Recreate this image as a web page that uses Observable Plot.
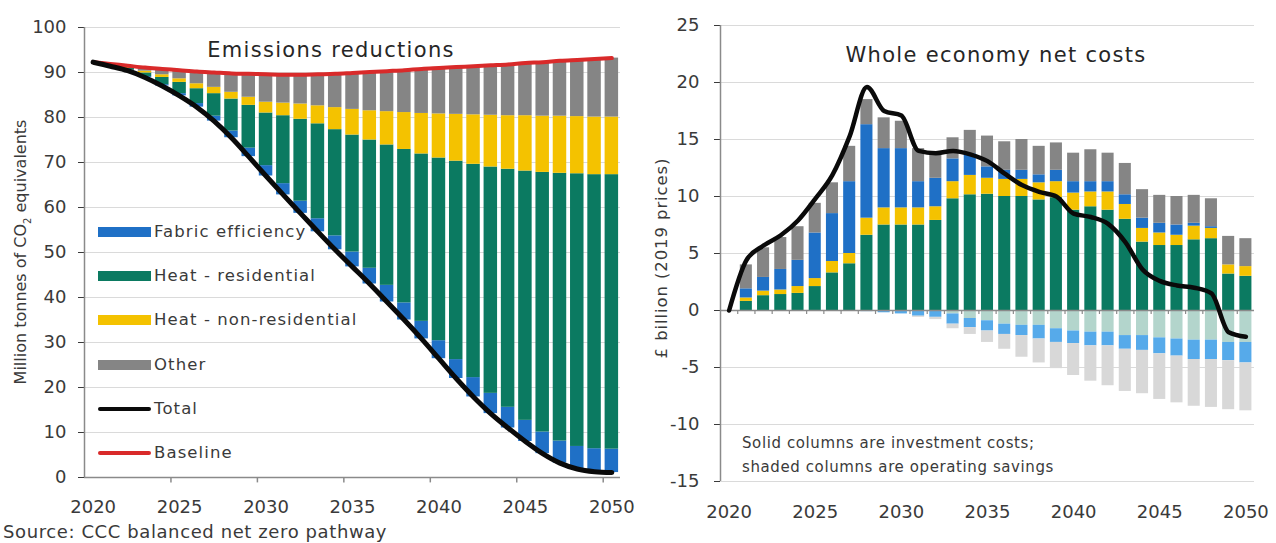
<!DOCTYPE html>
<html>
<head>
<meta charset="utf-8">
<script src="https://cdn.jsdelivr.net/npm/d3@7"></script>
<script src="https://cdn.jsdelivr.net/npm/@observablehq/plot@0.6"></script>
<style>
  html, body { margin: 0; padding: 0; background: #fff; }
  body { font-family: "DejaVu Sans", sans-serif; color: #3a3a3a; }
  #wrap { position: relative; width: 1276px; height: 543px; overflow: hidden; }
  .abs { position: absolute; white-space: nowrap; line-height: 1; }
  .ctr { transform: translate(-50%, -50%); }
  .vmid { transform: translate(0, -50%); }
  .rot { transform: translate(-50%, -50%) rotate(-90deg); }
  .title { font-size: 21px; letter-spacing: 1.3px; color: #262626; }
  .leg { font-size: 16.5px; letter-spacing: 1.1px; }
  .sw { position: absolute; }
</style>
</head>
<body>
<div id="wrap">
  <div id="leftChart" class="abs" style="left:0;top:0"></div>
  <div id="rightChart" class="abs" style="left:640px;top:0"></div>

  <div class="abs ctr title" style="left:331px;top:50px">Emissions reductions</div>
  <div class="abs ctr title" style="left:996px;top:55px">Whole economy net costs</div>

  <div class="abs rot" style="left:23px;top:252px;font-size:16px;">Million tonnes of CO<sub style="font-size:10px;">2</sub> equivalents</div>
  <div class="abs rot" style="left:662px;top:258px;font-size:16.5px;letter-spacing:0.9px;">£ billion (2019 prices)</div>

  <div class="abs vmid" style="left:3px;top:532px;font-size:18px;letter-spacing:0.6px;">Source: CCC balanced net zero pathway</div>

  <div class="abs vmid" style="left:742px;top:443px;font-size:15px;letter-spacing:0.6px;">Solid columns are investment costs;</div>
  <div class="abs vmid" style="left:742px;top:467px;font-size:15px;letter-spacing:0.6px;">shaded columns are operating savings</div>

  <div id="legend"></div>
</div>

<script>
// ---------- Categories ----------
const years = [2020, 2021, 2022, 2023, 2024, 2025, 2026, 2027, 2028, 2029, 2030,
               2031, 2032, 2033, 2034, 2035, 2036, 2037, 2038, 2039, 2040,
               2041, 2042, 2043, 2044, 2045, 2046, 2047, 2048, 2049, 2050];
const yearLabels = [2020, 2025, 2030, 2035, 2040, 2045, 2050];

// ---------- Left panel: emissions (MtCO2e) ----------
const baseline   = [92.3, 91.9, 91.5, 91.1, 90.8, 90.5, 90.2, 90.0, 89.8, 89.7, 89.6,
                    89.5, 89.5, 89.6, 89.7, 89.9, 90.1, 90.3, 90.5, 90.8, 91.0,
                    91.2, 91.4, 91.6, 91.8, 92.1, 92.3, 92.6, 92.8, 93.0, 93.2];
const total      = [92.3, 91.4, 90.4, 88.9, 87.0, 84.8, 82.3, 79.2, 75.5, 71.3, 67.0,
                    62.8, 58.7, 54.6, 50.6, 46.8, 43.0, 39.0, 35.0, 30.8, 26.4,
                    22.0, 17.9, 14.2, 11.0, 8.0, 5.3, 3.2, 1.9, 1.3, 1.1];
const fabricRed  = [0, 0.0, 0.1, 0.2, 0.3, 0.5, 0.8, 1.1, 1.5, 1.9, 2.3,
                    2.5, 2.7, 2.9, 3.1, 3.3, 3.5, 3.7, 3.8, 3.9, 4.0,
                    4.2, 4.3, 4.5, 4.6, 4.7, 4.8, 4.9, 5.0, 5.1, 5.2];
const heatResRed = [0, 0.2, 0.4, 0.8, 1.6, 2.5, 3.3, 5.0, 7.1, 9.5, 11.7,
                    15.1, 18.2, 21.1, 23.6, 26.0, 28.5, 31.2, 34.1, 37.2, 40.6,
                    44.1, 47.4, 50.3, 52.9, 55.4, 57.7, 59.5, 60.6, 60.9, 61.0];
const heatNonRed = [0, 0.1, 0.2, 0.4, 0.6, 0.8, 1.1, 1.4, 1.5, 1.8, 2.4,
                    2.8, 3.4, 4.0, 4.9, 5.7, 6.5, 7.4, 8.2, 9.0, 9.8,
                    10.4, 11.0, 11.5, 11.9, 12.3, 12.5, 12.7, 12.7, 12.8, 12.8];
const otherRed   = [0, 0.2, 0.4, 0.8, 1.3, 1.9, 2.7, 3.3, 4.2, 5.2, 6.2,
                    6.3, 6.5, 7.0, 7.5, 8.1, 8.6, 9.0, 9.4, 9.9, 10.2,
                    10.5, 10.8, 11.1, 11.4, 11.7, 12.0, 12.3, 12.6, 12.9, 13.1];
const leftTicks  = [0, 10, 20, 30, 40, 50, 60, 70, 80, 90, 100];

// ---------- Right panel: costs (£bn, 2019 prices) ----------
const invHeatRes = [0, 0.8, 1.3, 1.4, 1.5, 2.1, 3.3, 4.1, 6.6, 7.5, 7.5,
                    7.5, 7.9, 9.8, 10.15, 10.2, 10.0, 10.0, 9.7, 9.9, 8.8,
                    9.1, 8.8, 8.0, 6.0, 5.7, 5.7, 6.2, 6.3, 3.2, 3.0];
const invHeatNon = [0, 0.3, 0.4, 0.4, 0.6, 0.7, 1.0, 0.9, 1.5, 1.5, 1.5,
                    1.5, 1.2, 1.5, 1.7, 1.4, 1.5, 1.5, 1.5, 1.4, 1.5,
                    1.3, 1.6, 1.3, 1.2, 1.1, 0.9, 1.2, 0.9, 0.8, 0.85];
const invFabric  = [0, 0.8, 1.2, 1.8, 2.3, 4.0, 4.2, 6.3, 8.2, 5.2, 5.2,
                    2.3, 2.5, 2.0, 1.9, 1.0, 0.8, 0.8, 0.7, 1.0, 1.0,
                    0.9, 0.9, 0.85, 0.9, 0.85, 0.9, 0.25, 0.15, 0, 0];
const invOther   = [0, 2.1, 2.6, 2.8, 2.95, 2.6, 2.7, 3.1, 2.2, 2.7, 2.4,
                    2.9, 2.3, 1.85, 2.05, 2.7, 2.5, 2.7, 2.5, 2.4, 2.5,
                    2.8, 2.5, 2.75, 2.5, 2.45, 2.5, 2.45, 2.45, 2.5, 2.45];
const savHeatRes = [0, 0, 0, 0, 0, 0, 0, 0, 0, 0, 0,
                    0, 0, -0.3, -0.7, -0.9, -1.2, -1.3, -1.3, -1.6, -1.8,
                    -1.9, -1.9, -2.2, -2.2, -2.4, -2.5, -2.6, -2.6, -2.8, -2.8];
const savFabric  = [0, 0, 0, 0, 0, 0, 0, 0, -0.1, -0.2, -0.3,
                    -0.5, -0.6, -0.9, -0.8, -0.9, -0.9, -0.9, -1.2, -1.2, -1.1,
                    -1.2, -1.2, -1.2, -1.3, -1.4, -1.5, -1.7, -1.7, -1.6, -1.8];
const savOther   = [0, 0, 0, 0, 0, 0, 0, 0, 0, 0, 0,
                    -0.1, -0.2, -0.4, -0.6, -1.0, -1.3, -1.9, -2.1, -2.3, -2.8,
                    -3.1, -3.5, -3.7, -3.8, -4.0, -4.1, -4.1, -4.2, -4.3, -4.2];
const netCost    = [0, 4.4, 5.7, 6.6, 7.9, 9.8, 11.9, 15.3, 19.6, 17.5, 17.1,
                    14.0, 13.8, 14.0, 13.7, 13.1, 12.0, 11.0, 10.4, 10.0, 8.5,
                    8.2, 7.6, 6.0, 3.6, 2.6, 2.2, 2.0, 1.5, -1.9, -2.3];
const rightTicks = [-15, -10, -5, 0, 5, 10, 15, 20, 25];

// ---------- Colours ----------
const COL = {
  blue: "#1f70c6", green: "#0b7a61", yellow: "#f4c200", gray: "#858585",
  red: "#d92a2a", black: "#0a0a0a",
  greenS: "#b3d5cc", blueS: "#56aaea", grayS: "#d8d8d8",
  axis: "#8a8a8a", grid: "#dadada"
};
const FONT = '"DejaVu Sans", sans-serif';

// ---------- Left chart ----------
const leftKeys = ["base", "Fabric efficiency", "Heat - residential", "Heat - non-residential", "Other"];
const leftSeries = [total, fabricRed, heatResRed, heatNonRed, otherRed];
const leftRows = years.flatMap((year, i) =>
  leftKeys.map((key, k) => ({year, key, value: leftSeries[k][i]})));
const leftLines = years.map((year, i) => ({year, total: total[i], baseline: baseline[i]}));

const LW = 640, LML = 84, LMR = 20;
const stepL = (LW - LML - LMR) / years.length;

const left = Plot.plot({
  width: LW, height: 543,
  marginLeft: LML, marginRight: LMR, marginTop: 27, marginBottom: 66,
  style: {fontFamily: FONT, fontSize: "18px", color: "#3a3a3a", background: "transparent"},
  x: {type: "band", domain: years, paddingInner: 0.22, paddingOuter: 0.11, round: false,
      tickSize: 0, tickPadding: 23, label: null,
      tickFormat: d => yearLabels.includes(d) ? String(d) : ""},
  y: {domain: [0, 100], ticks: leftTicks, tickSize: 6, tickPadding: 12,
      tickFormat: d => String(d), label: null},
  color: {domain: leftKeys, range: ["transparent", COL.blue, COL.green, COL.yellow, COL.gray]},
  marks: [
    Plot.ruleY(leftTicks.filter(t => t !== 0), {stroke: COL.grid, strokeWidth: 1}),
    Plot.barY(leftRows, Plot.stackY({x: "year", y: "value", fill: "key", order: leftKeys})),
    Plot.line(leftLines, {x: "year", y: "baseline", stroke: COL.red, strokeWidth: 4, curve: "monotone-x"}),
    Plot.line(leftLines, {x: "year", y: "total", stroke: COL.black, strokeWidth: 5, curve: "monotone-x", strokeLinecap: "round"}),
    Plot.ruleY([0], {stroke: COL.axis, strokeWidth: 1.5}),
    Plot.ruleX([years[0]], {dx: -stepL / 2, stroke: COL.axis, strokeWidth: 1.5}),
    Plot.ruleX(yearLabels.slice(1), {x: d => d, y1: 0, y2: -1.2, dx: -stepL / 2, stroke: COL.axis, strokeWidth: 1.5})
  ]
});
document.getElementById("leftChart").appendChild(left);

// ---------- Right chart ----------
const rightKeys = ["inv-heatRes", "inv-heatNon", "inv-fabric", "inv-other",
                   "sav-heatRes", "sav-fabric", "sav-other"];
const rightSeries = [invHeatRes, invHeatNon, invFabric, invOther, savHeatRes, savFabric, savOther];
const rightRows = years.flatMap((year, i) =>
  rightKeys.map((key, k) => ({year, key, value: rightSeries[k][i]})));
const rightLine = years.map((year, i) => ({year, net: netCost[i]}));

const RW = 636, RML = 80, RMR = 22;
const stepR = (RW - RML - RMR) / years.length;

const right = Plot.plot({
  width: RW, height: 543,
  marginLeft: RML, marginRight: RMR, marginTop: 25, marginBottom: 62,
  style: {fontFamily: FONT, fontSize: "18px", color: "#3a3a3a", background: "transparent"},
  x: {type: "band", domain: years, paddingInner: 0.3, paddingOuter: 0.15, round: false,
      tickSize: 0, tickPadding: 24, label: null,
      tickFormat: d => yearLabels.includes(d) ? String(d) : ""},
  y: {domain: [-15, 25], ticks: rightTicks, tickSize: 6, tickPadding: 15,
      tickFormat: d => String(d), label: null},
  color: {domain: rightKeys,
          range: [COL.green, COL.yellow, COL.blue, COL.gray, COL.greenS, COL.blueS, COL.grayS]},
  marks: [
    Plot.ruleY(rightTicks.filter(t => t !== 0), {stroke: COL.grid, strokeWidth: 1}),
    Plot.barY(rightRows, Plot.stackY({x: "year", y: "value", fill: "key", order: rightKeys})),
    Plot.ruleY([0], {stroke: COL.axis, strokeWidth: 1.5}),
    Plot.ruleX(years.slice(1), {x: d => d, y1: 0, y2: -0.35, dx: -stepR / 2, stroke: COL.axis, strokeWidth: 1.2}),
    Plot.ruleX([years[0]], {dx: -stepR / 2, stroke: COL.axis, strokeWidth: 1.5}),
    Plot.line(rightLine, {x: "year", y: "net", stroke: COL.black, strokeWidth: 4.5, curve: "monotone-x", strokeLinecap: "round", strokeLinejoin: "round"})
  ]
});
document.getElementById("rightChart").appendChild(right);

// ---------- Legend (left panel) ----------
const legendItems = [
  {label: "Fabric efficiency", color: COL.blue, kind: "bar"},
  {label: "Heat - residential", color: COL.green, kind: "bar"},
  {label: "Heat - non-residential", color: COL.yellow, kind: "bar"},
  {label: "Other", color: COL.gray, kind: "bar"},
  {label: "Total", color: COL.black, kind: "line"},
  {label: "Baseline", color: COL.red, kind: "line"}
];
const legendTop = 232, legendGap = 44.2;
const legend = document.getElementById("legend");
legendItems.forEach((it, i) => {
  const cy = legendTop + i * legendGap;
  const sw = document.createElement("div");
  sw.className = "sw";
  const h = it.kind === "bar" ? 10 : 4;
  sw.style.cssText = `left:98px;top:${cy - h / 2}px;width:53px;height:${h}px;background:${it.color};` +
    (it.kind === "line" ? "border-radius:2px;" : "");
  legend.appendChild(sw);
  const tx = document.createElement("div");
  tx.className = "abs vmid leg";
  tx.style.left = "154px";
  tx.style.top = cy + "px";
  tx.textContent = it.label;
  legend.appendChild(tx);
});
</script>
</body>
</html>
